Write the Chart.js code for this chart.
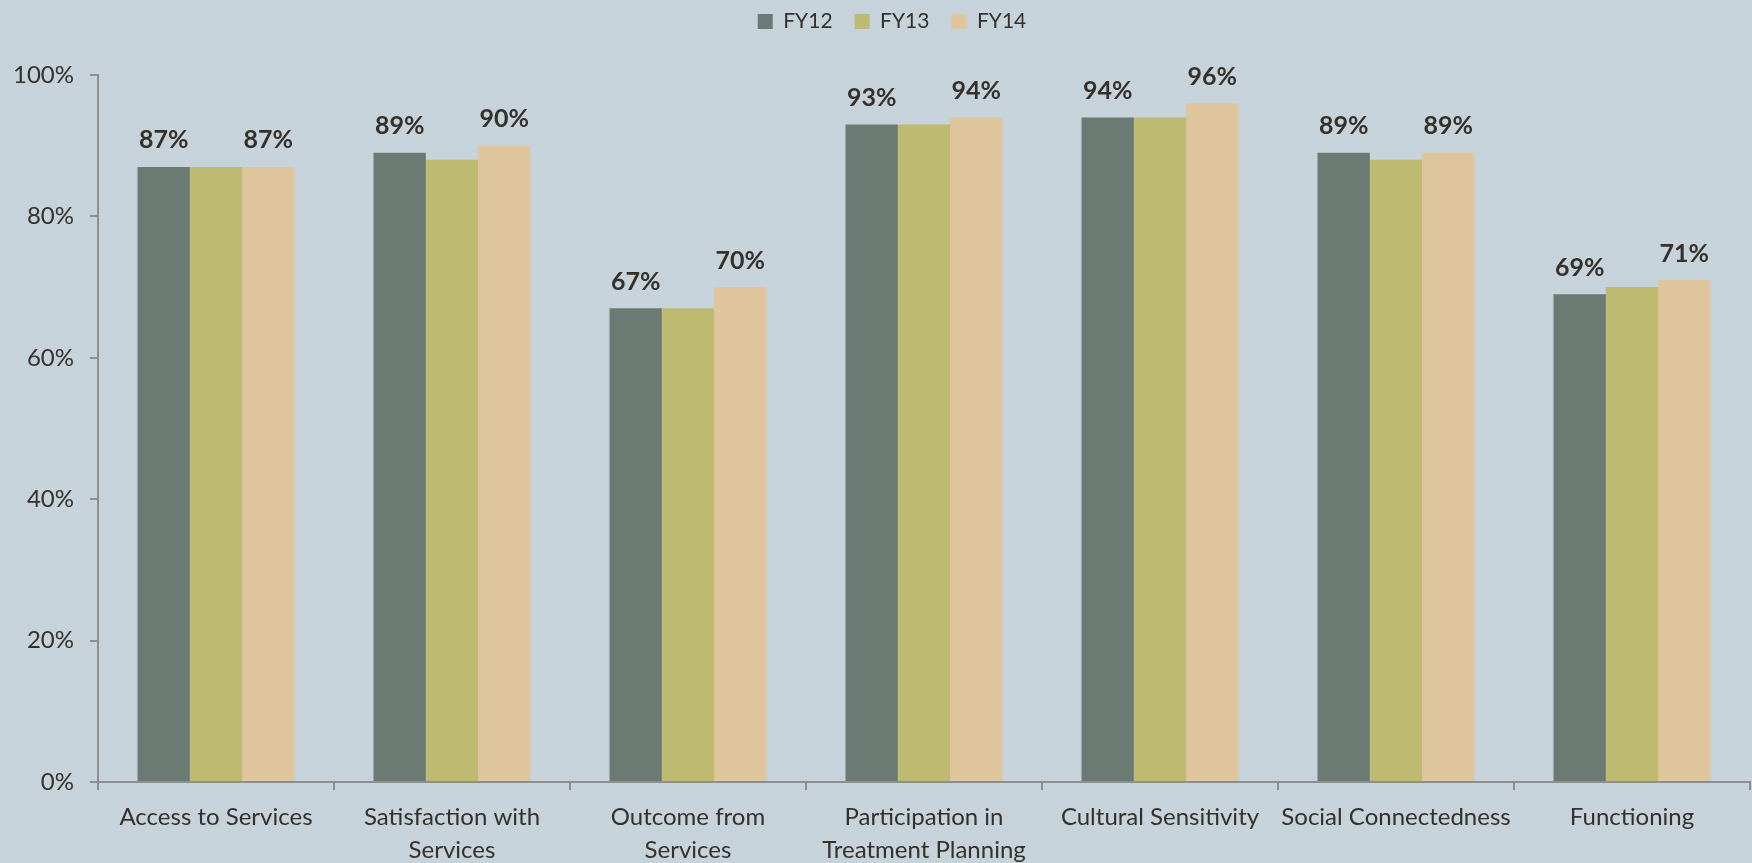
<!DOCTYPE html>
<html>
<head>
<meta charset="utf-8">
<script src="https://cdn.jsdelivr.net/npm/chart.js@4.4.1/dist/chart.umd.min.js"></script>
<style>
    html, body { margin: 0; padding: 0; background: #c7d3da; }
    #wrap { width: 1752px; height: 863px; }
</style>
</head>
<body>
<div id="wrap"><canvas id="surveyChart" width="1752" height="863"></canvas></div>
<script>
const categories = [
    'Access to Services',
    ['Satisfaction with', 'Services'],
    ['Outcome from', 'Services'],
    ['Participation in', 'Treatment Planning'],
    'Cultural Sensitivity',
    'Social Connectedness',
    'Functioning'
];
const fy12 = [87, 89, 67, 93, 94, 89, 69];
const fy13 = [87, 88, 67, 93, 94, 88, 70];
const fy14 = [87, 90, 70, 94, 96, 89, 71];
const yTicks = [0, 20, 40, 60, 80, 100];

const textColor = '#35302a';
const axisColor = '#8e8e8e';
const fontFamily = 'Lato, "Open Sans", sans-serif';

// values printed above the FY12 and FY14 bars only
const barLabels = {
    id: 'barLabels',
    afterDatasetsDraw(chart) {
        const ctx = chart.ctx;
        ctx.save();
        ctx.font = 'bold 25px ' + fontFamily;
        ctx.fillStyle = textColor;
        ctx.textAlign = 'center';
        ctx.textBaseline = 'bottom';
        [0, 2].forEach(i => {
            const meta = chart.getDatasetMeta(i);
            meta.data.forEach((bar, j) => {
                const v = chart.data.datasets[i].data[j];
                ctx.fillText(v + '%', bar.x, bar.y - 14);
            });
        });
        ctx.restore();
    }
};

// extra room under the legend, and nudge the legend itself a bit
const legendGap = {
    id: 'legendGap',
    beforeInit(chart) {
        const fit = chart.legend.fit;
        chart.legend.fit = function () {
            fit.call(this);
            this.height += 22;
        };
    },
    afterLayout(chart) {
        const l = chart.legend;
        l.left += 17;
        l.right += 17;
        l.top -= 11;
        l.bottom -= 11;
    }
};

const ctx = document.getElementById('surveyChart').getContext('2d');
new Chart(ctx, {
    type: 'bar',
    data: {
        labels: categories,
        datasets: [
            { label: 'FY12', data: fy12, backgroundColor: '#6b7b73' },
            { label: 'FY13', data: fy13, backgroundColor: '#bfba72' },
            { label: 'FY14', data: fy14, backgroundColor: '#dfc59c' }
        ]
    },
    options: {
        responsive: false,
        maintainAspectRatio: false,
        animation: false,
        devicePixelRatio: 1,
        layout: {
            padding: { top: 0, right: 2, bottom: 0, left: 0 }
        },
        plugins: {
            legend: {
                display: true,
                position: 'top',
                labels: {
                    boxWidth: 15,
                    boxHeight: 15,
                    padding: 22,
                    color: textColor,
                    font: { family: fontFamily, size: 21 }
                }
            },
            tooltip: { enabled: false }
        },
        datasets: {
            bar: {
                categoryPercentage: 0.665,
                barPercentage: 1.0
            }
        },
        scales: {
            x: {
                grid: {
                    display: true,
                    drawOnChartArea: false,
                    drawTicks: true,
                    tickLength: 8,
                    color: axisColor,
                    lineWidth: 2
                },
                border: { color: axisColor, width: 2 },
                ticks: {
                    color: textColor,
                    font: { family: fontFamily, size: 24, lineHeight: 1.4 },
                    maxRotation: 0,
                    autoSkip: false,
                    padding: 10
                },
                afterFit(scale) { scale.height = 81; }
            },
            y: {
                min: 0,
                max: 100,
                grid: {
                    display: true,
                    drawOnChartArea: false,
                    drawTicks: true,
                    tickLength: 8,
                    color: axisColor,
                    lineWidth: 2
                },
                border: { color: axisColor, width: 2 },
                afterBuildTicks(scale) {
                    scale.ticks = yTicks.map(v => ({ value: v }));
                },
                ticks: {
                    color: textColor,
                    font: { family: fontFamily, size: 24 },
                    padding: 16,
                    callback: v => v + '%'
                },
                afterFit(scale) { scale.width = 98; }
            }
        }
    },
    plugins: [barLabels, legendGap]
});
</script>
</body>
</html>
